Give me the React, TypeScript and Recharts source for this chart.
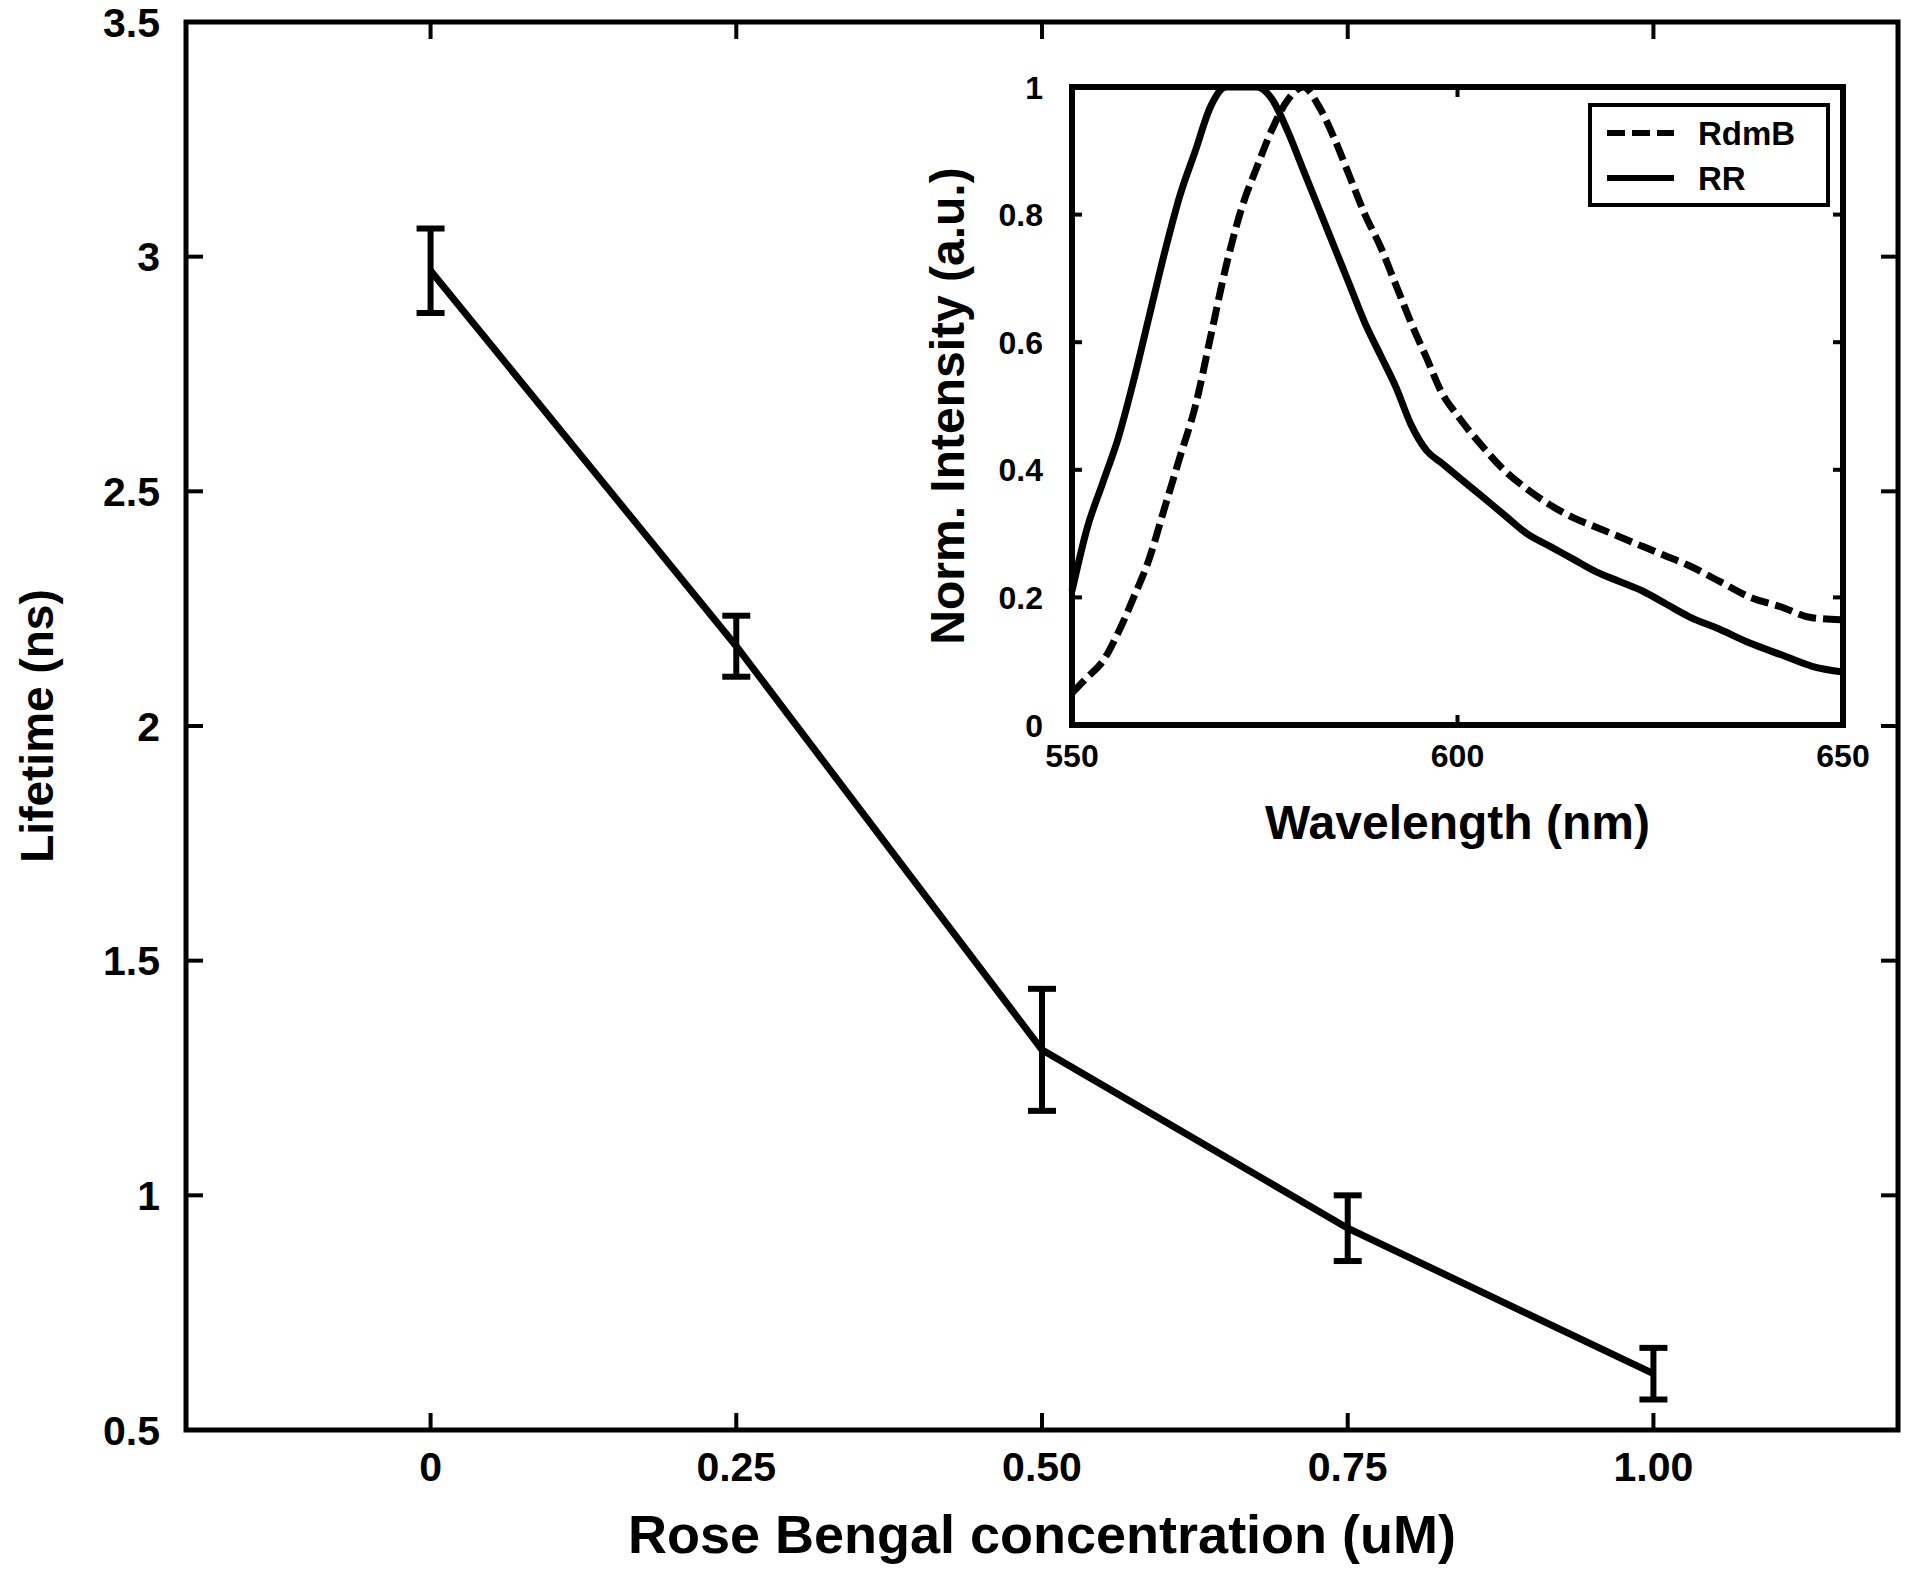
import React from "react";
import { LineChart, Line, XAxis, YAxis, ErrorBar, ReferenceArea, Legend, Label } from "recharts";

// main plot: lifetime vs Rose Bengal concentration
const concentrations = [0, 0.25, 0.5, 0.75, 1.0];
const lifetimes = [2.97, 2.17, 1.31, 0.93, 0.62];
const lifetimeErrors = [0.09, 0.065, 0.13, 0.07, 0.055];
const concTicks = [0, 0.25, 0.5, 0.75, 1.0];
const concTickLabels = ["0", "0.25", "0.50", "0.75", "1.00"];
const lifetimeTicks = [0.5, 1, 1.5, 2, 2.5, 3, 3.5];
const lifetimeTickLabels = ["0.5", "1", "1.5", "2", "2.5", "3", "3.5"];

// inset: normalized emission spectra
const wavelengths = [
  550, 552, 554, 556, 558, 560, 562, 564, 566, 568, 570, 572, 574, 576, 578, 580, 582, 584, 586, 588, 590,
  592, 594, 596, 598, 600, 603, 606, 609, 612, 615, 618, 621, 624, 627, 630, 634, 638, 642, 646, 650,
];
const rdmbIntensity = [
  0.05, 0.075, 0.1, 0.145, 0.2, 0.26, 0.34, 0.42, 0.5, 0.61, 0.72, 0.81, 0.875, 0.935, 0.98, 1.0, 0.97, 0.92,
  0.86, 0.8, 0.75, 0.69, 0.63, 0.575, 0.52, 0.485, 0.44, 0.4, 0.37, 0.345, 0.325, 0.31, 0.295, 0.28, 0.265,
  0.25, 0.225, 0.2, 0.185, 0.168, 0.165,
];
const rrIntensity = [
  0.21, 0.31, 0.38, 0.45, 0.54, 0.64, 0.74, 0.83, 0.9, 0.97, 1.0, 1.0, 1.0, 0.98, 0.93, 0.87, 0.81, 0.75, 0.69,
  0.63, 0.58, 0.53, 0.47, 0.43, 0.41, 0.39, 0.36, 0.33, 0.3, 0.28, 0.26, 0.24, 0.225, 0.21, 0.19, 0.17, 0.15,
  0.128, 0.11, 0.092, 0.083,
];
const wlTicks = [550, 600, 650];
const wlTickLabels = ["550", "600", "650"];
const intensityTicks = [0, 0.2, 0.4, 0.6, 0.8, 1];
const intensityTickLabels = ["0", "0.2", "0.4", "0.6", "0.8", "1"];
const legendOrder = ["RdmB", "RR"];

const FONT = "'Liberation Sans', Arial, Helvetica, sans-serif";

const mainData = concentrations.map((c, i) => ({ conc: c, lifetime: lifetimes[i], err: lifetimeErrors[i] }));
const insetData = wavelengths.map((w, i) => ({ wl: w, RdmB: rdmbIntensity[i], RR: rrIntensity[i] }));

function labelFor(ticks: number[], labels: string[], v: number) {
  const i = ticks.findIndex((t) => Math.abs(t - v) < 1e-9);
  return i >= 0 ? labels[i] : String(v);
}

// x tick: label below the axis plus inward marks on bottom and top edges
function makeXTick(ticks: number[], labels: string[], top: number, bottom: number, len: number, fontSize: number) {
  return (props: any) => {
    const { x, y, payload } = props;
    return (
      <g>
        <line x1={x} x2={x} y1={bottom} y2={bottom - len} stroke="#000" strokeWidth={4} />
        <line x1={x} x2={x} y1={top} y2={top + len} stroke="#000" strokeWidth={4} />
        <text x={x} y={y} dy="0.71em" textAnchor="middle" fontFamily={FONT} fontWeight="bold" fontSize={fontSize} fill="#000">
          {labelFor(ticks, labels, payload.value)}
        </text>
      </g>
    );
  };
}

// y tick: label left of the axis plus inward marks on left and right edges
function makeYTick(ticks: number[], labels: string[], left: number, right: number, len: number, fontSize: number) {
  return (props: any) => {
    const { x, y, payload } = props;
    return (
      <g>
        <line x1={left} x2={left + len} y1={y} y2={y} stroke="#000" strokeWidth={4} />
        <line x1={right} x2={right - len} y1={y} y2={y} stroke="#000" strokeWidth={4} />
        <text x={x} y={y} dy="0.36em" textAnchor="end" fontFamily={FONT} fontWeight="bold" fontSize={fontSize} fill="#000">
          {labelFor(ticks, labels, payload.value)}
        </text>
      </g>
    );
  };
}

function InsetLegend(props: any) {
  const items = [...(props.payload || [])].sort(
    (a: any, b: any) => legendOrder.indexOf(a.value) - legendOrder.indexOf(b.value)
  );
  return (
    <div style={{ boxSizing: "border-box", width: 242, height: 104, border: "4px solid #000", background: "#fff" }}>
      <svg width={234} height={96}>
        {items.map((it: any, i: number) => {
          const cy = 26 + i * 45;
          const dash = it.payload && it.payload.strokeDasharray;
          return (
            <g key={it.value}>
              <line x1={15} x2={82} y1={cy} y2={cy} stroke="#000" strokeWidth={6} strokeDasharray={dash} />
              <text x={106} y={cy} dy="0.36em" fontFamily={FONT} fontWeight="bold" fontSize={33} fill="#000">
                {it.value}
              </text>
            </g>
          );
        })}
      </svg>
    </div>
  );
}

export default function App() {
  // pulled up/left over the body margin so the top tick label has room
  return (
    <div style={{ position: "relative", width: 1912, height: 1584, margin: "-8px 0 0 -8px", background: "#fff" }}>
      <LineChart width={1912} height={1584} data={mainData} margin={{ top: 22, right: 14, bottom: 94, left: 0 }}>
        <XAxis
          type="number"
          dataKey="conc"
          domain={[-0.2, 1.2]}
          ticks={concTicks}
          height={60}
          axisLine={false}
          tickLine={false}
          tickSize={0}
          tickMargin={22}
          interval={0}
          tick={makeXTick(concTicks, concTickLabels, 22, 1430, 17, 41)}
        >
          <Label value="Rose Bengal concentration (uM)" position="bottom" offset={25} style={{ fontFamily: FONT, fontWeight: "bold", fontSize: 54, fill: "#000" }} />
        </XAxis>
        <YAxis
          type="number"
          domain={[0.5, 3.5]}
          ticks={lifetimeTicks}
          width={186}
          axisLine={false}
          tickLine={false}
          tickSize={0}
          tickMargin={26}
          interval={0}
          tick={makeYTick(lifetimeTicks, lifetimeTickLabels, 186, 1898, 17, 41)}
        >
          <Label value="Lifetime (ns)" angle={-90} position="insideLeft" offset={37} style={{ textAnchor: "middle", fontFamily: FONT, fontWeight: "bold", fontSize: 46, fill: "#000" }} />
        </YAxis>
        <ReferenceArea x1={-0.2} x2={1.2} y1={0.5} y2={3.5} fill="none" fillOpacity={0} stroke="#000" strokeWidth={5} ifOverflow="visible" />
        <Line type="linear" dataKey="lifetime" stroke="#000" strokeWidth={7} dot={false} isAnimationActive={false}>
          <ErrorBar dataKey="err" direction="y" width={14} strokeWidth={6} stroke="#000" />
        </Line>
      </LineChart>

      <div style={{ position: "absolute", left: 908, top: 68 }}>
        <LineChart width={990} height={800} data={insetData} margin={{ top: 19, right: 55, bottom: 83, left: 0 }}>
          <XAxis
            type="number"
            dataKey="wl"
            domain={[550, 650]}
            ticks={wlTicks}
            height={60}
            axisLine={false}
            tickLine={false}
            tickSize={0}
            tickMargin={19}
            interval={0}
            tick={makeXTick(wlTicks, wlTickLabels, 19, 657, 10, 32)}
          >
            <Label value="Wavelength (nm)" position="bottom" offset={20} style={{ fontFamily: FONT, fontWeight: "bold", fontSize: 48, fill: "#000" }} />
          </XAxis>
          <YAxis
            type="number"
            domain={[0, 1]}
            ticks={intensityTicks}
            width={164}
            axisLine={false}
            tickLine={false}
            tickSize={0}
            tickMargin={29}
            interval={0}
            allowDataOverflow
            tick={makeYTick(intensityTicks, intensityTickLabels, 164, 935, 10, 32)}
          >
            <Label value="Norm. Intensity (a.u.)" angle={-90} position="insideLeft" offset={39} style={{ textAnchor: "middle", fontFamily: FONT, fontWeight: "bold", fontSize: 48, fill: "#000" }} />
          </YAxis>
          <ReferenceArea x1={550} x2={650} y1={0} y2={1} fill="none" fillOpacity={0} stroke="#000" strokeWidth={6} ifOverflow="visible" />
          <Line type="monotone" dataKey="RdmB" name="RdmB" stroke="#000" strokeWidth={7} strokeDasharray="18 7" dot={false} isAnimationActive={false} />
          <Line type="monotone" dataKey="RR" name="RR" stroke="#000" strokeWidth={7} dot={false} isAnimationActive={false} />
          <Legend
            layout="vertical"
            align="center"
            verticalAlign="middle"
            content={InsetLegend}
            wrapperStyle={{ left: 680, top: 35, width: 242, height: 104 }}
          />
        </LineChart>
      </div>
    </div>
  );
}
